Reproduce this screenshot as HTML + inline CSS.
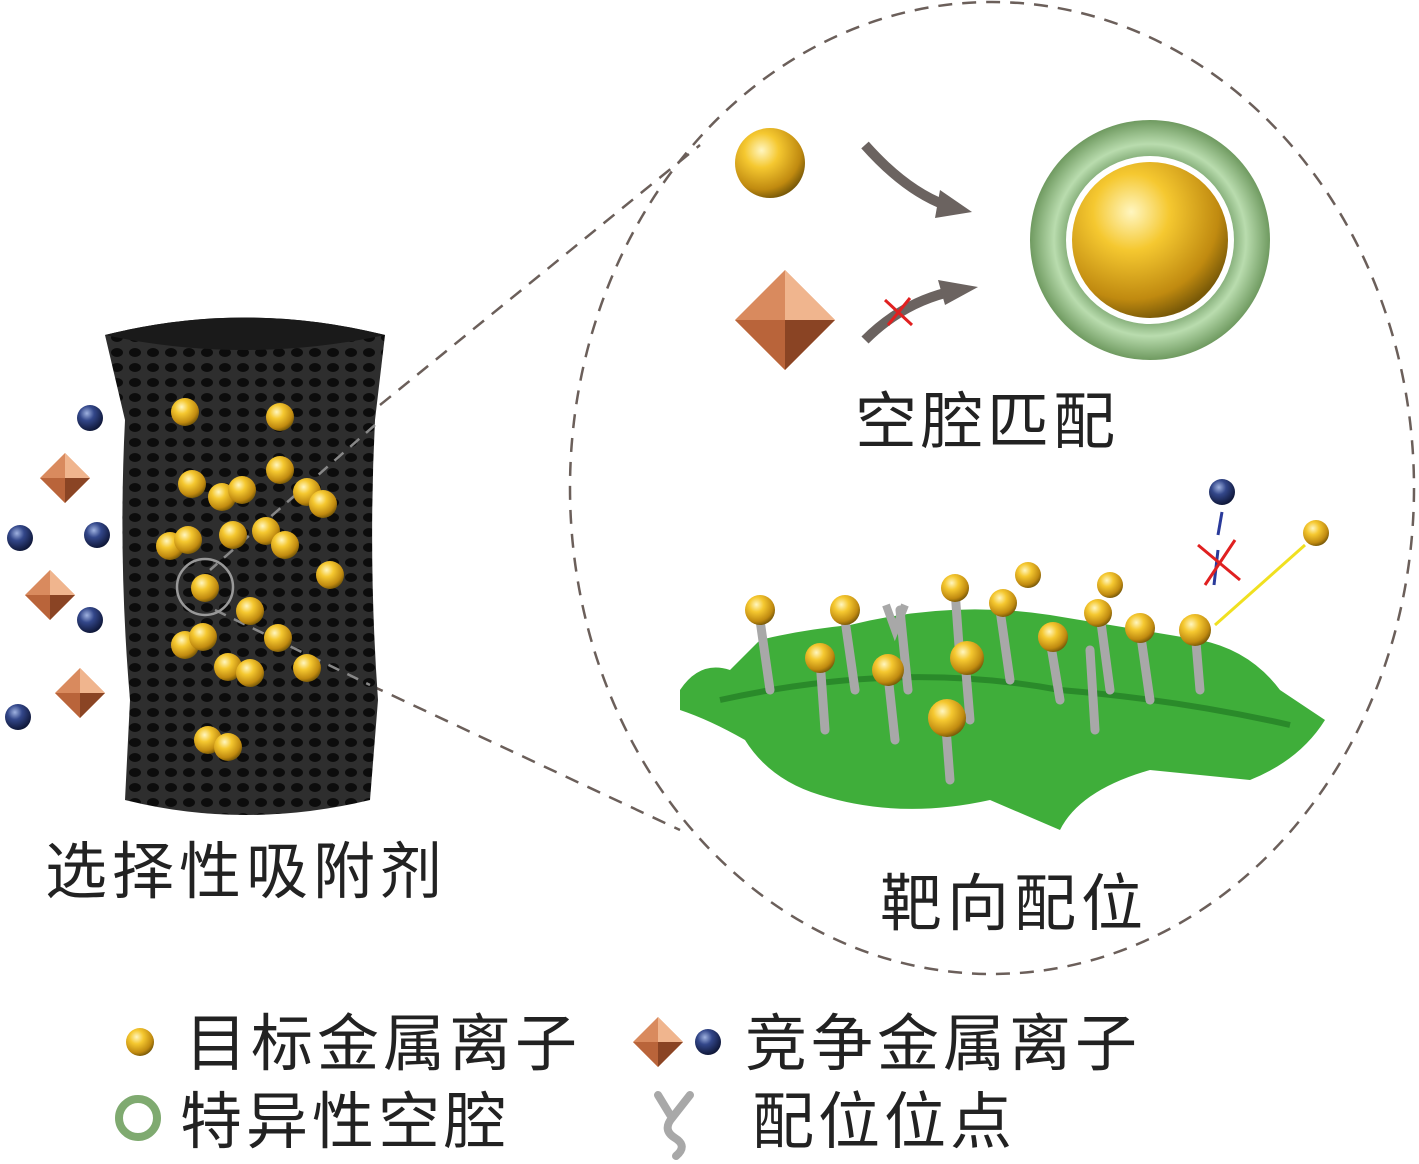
<!DOCTYPE html>
<html><head><meta charset="utf-8"><style>
body{margin:0;background:#fff}
svg{display:block}
text{font-family:"Liberation Sans","Noto Sans CJK SC",sans-serif;fill:#222}
</style></head><body>
<svg width="1419" height="1164" viewBox="0 0 1419 1164" xmlns="http://www.w3.org/2000/svg">
<defs>
<radialGradient id="gold" cx="0.38" cy="0.32" r="0.7">
<stop offset="0" stop-color="#fff6c0"/><stop offset="0.35" stop-color="#f5c830"/><stop offset="0.8" stop-color="#c08a10"/><stop offset="1" stop-color="#7a5a08"/></radialGradient>
<radialGradient id="blue" cx="0.38" cy="0.32" r="0.7">
<stop offset="0" stop-color="#9fb2e0"/><stop offset="0.4" stop-color="#33478a"/><stop offset="1" stop-color="#0e1636"/></radialGradient>
<radialGradient id="green" cx="0.5" cy="0.5" r="0.5">
<stop offset="0.6" stop-color="#5c8a50"/><stop offset="0.8" stop-color="#b9dcae"/><stop offset="1" stop-color="#6f9a60"/></radialGradient>
<pattern id="mesh" width="18" height="15" patternUnits="userSpaceOnUse">
<rect width="18" height="15" fill="#2e2e2e"/><ellipse cx="9" cy="7.5" rx="6" ry="4.5" fill="#0c0c0c"/></pattern>
<symbol id="dia" viewBox="-1 -1 2 2"><polygon points="0,-1 1,0 0,1 -1,0" fill="#d98a5e"/><polygon points="0,-1 1,0 0,0" fill="#f0b58e"/><polygon points="0,0 1,0 0,1" fill="#8a4424"/><polygon points="0,0 0,1 -1,0" fill="#b9643a"/></symbol>
</defs>
<ellipse cx="992" cy="488" rx="422" ry="486" fill="none" stroke="#6b5f5a" stroke-width="2.5" stroke-dasharray="14 10"/>
<line x1="380" y1="405" x2="700" y2="145" stroke="#6b5f5a" stroke-width="2.5" stroke-dasharray="14 10"/>
<line x1="370" y1="685" x2="680" y2="830" stroke="#6b5f5a" stroke-width="2.5" stroke-dasharray="14 10"/>
<path d="M105 335 Q245 300 385 335 L375 420 Q368 560 378 700 L370 800 Q245 830 125 800 L130 700 Q118 560 125 420 Z" fill="url(#mesh)"/>
<path d="M105 335 Q245 300 385 335 Q245 365 105 335Z" fill="#1a1a1a"/>
<line x1="375" y1="425" x2="210" y2="570" stroke="#888" stroke-width="2.5" stroke-dasharray="12 9"/>
<line x1="215" y1="610" x2="370" y2="685" stroke="#888" stroke-width="2.5" stroke-dasharray="12 9"/>
<circle cx="205" cy="587" r="28" fill="none" stroke="#999" stroke-width="2.5"/>
<g fill="url(#gold)">
<circle cx="185" cy="412" r="14"/><circle cx="280" cy="417" r="14"/><circle cx="280" cy="470" r="14"/><circle cx="192" cy="484" r="14"/><circle cx="222" cy="497" r="14"/><circle cx="242" cy="490" r="14"/><circle cx="307" cy="492" r="14"/><circle cx="323" cy="504" r="14"/><circle cx="170" cy="546" r="14"/><circle cx="188" cy="540" r="14"/><circle cx="233" cy="535" r="14"/><circle cx="266" cy="531" r="14"/><circle cx="285" cy="545" r="14"/><circle cx="330" cy="575" r="14"/><circle cx="205" cy="588" r="14"/><circle cx="250" cy="611" r="14"/><circle cx="185" cy="645" r="14"/><circle cx="203" cy="637" r="14"/><circle cx="228" cy="667" r="14"/><circle cx="250" cy="673" r="14"/><circle cx="278" cy="638" r="14"/><circle cx="307" cy="668" r="14"/><circle cx="208" cy="740" r="14"/><circle cx="228" cy="747" r="14"/>
</g>
<g fill="url(#blue)"><circle cx="90" cy="418" r="13"/><circle cx="20" cy="538" r="13"/><circle cx="97" cy="535" r="13"/><circle cx="90" cy="620" r="13"/><circle cx="18" cy="717" r="13"/></g>
<use href="#dia" x="40" y="453" width="50" height="50"/><use href="#dia" x="25" y="570" width="50" height="50"/><use href="#dia" x="55" y="668" width="50" height="50"/>
<text x="45" y="893" font-size="62" letter-spacing="5">选择性吸附剂</text>
<circle cx="770" cy="163" r="35" fill="url(#gold)"/>
<path d="M865 145 Q905 190 945 205" fill="none" stroke="#6b6360" stroke-width="10"/>
<polygon points="940,190 972,212 935,218" fill="#6b6360"/>
<use href="#dia" x="735" y="270" width="100" height="100"/>
<path d="M865 340 Q900 305 945 293" fill="none" stroke="#6b6360" stroke-width="10"/>
<polygon points="938,280 978,287 945,305" fill="#6b6360"/>
<g stroke="#e02020" stroke-width="3"><line x1="885" y1="300" x2="912" y2="325"/><line x1="910" y1="298" x2="888" y2="325"/></g>
<circle cx="1150" cy="240" r="120" fill="url(#green)"/>
<circle cx="1150" cy="240" r="84" fill="#fff"/>
<circle cx="1150" cy="240" r="78" fill="url(#gold)"/>
<text x="855" y="443" font-size="62" letter-spacing="4">空腔匹配</text>
<path d="M680 690 Q700 660 730 670 L760 640 Q800 630 850 625 Q950 600 1050 615 L1200 640 Q1250 650 1280 690 L1325 720 Q1300 760 1250 780 L1150 770 Q1080 790 1060 830 L990 800 Q900 820 820 795 Q770 780 745 740 Q710 720 680 710Z" fill="#3fae3a"/>
<path d="M720 700 Q900 660 1060 690 Q1180 700 1290 725" fill="none" stroke="#2a8a2a" stroke-width="6"/>
<g fill="none" stroke="#a8a8a8" stroke-width="9" stroke-linecap="round">
<path d="M760 620 L770 690"/><path d="M845 620 L855 690"/><path d="M820 660 L825 730"/><path d="M888 675 L895 740"/><path d="M900 610 L908 690"/><path d="M955 590 L960 660"/><path d="M1000 610 L1010 680"/><path d="M965 660 L970 720"/><path d="M1050 640 L1060 700"/><path d="M1100 615 L1110 690"/><path d="M1140 630 L1150 700"/><path d="M1195 630 L1200 690"/><path d="M945 715 L950 780"/><path d="M1090 650 L1095 730"/>
</g>
<path d="M886 605 L895 630 L905 605" fill="none" stroke="#a8a8a8" stroke-width="8"/>
<g fill="url(#gold)">
<circle cx="760" cy="610" r="15"/><circle cx="845" cy="610" r="15"/><circle cx="820" cy="658" r="15"/><circle cx="888" cy="670" r="16"/><circle cx="955" cy="588" r="14"/><circle cx="1028" cy="575" r="13"/><circle cx="1003" cy="603" r="14"/><circle cx="967" cy="658" r="17"/><circle cx="1053" cy="637" r="15"/><circle cx="1110" cy="585" r="13"/><circle cx="1098" cy="613" r="14"/><circle cx="1140" cy="628" r="15"/><circle cx="1195" cy="630" r="16"/><circle cx="947" cy="718" r="19"/><circle cx="1316" cy="533" r="13"/>
</g>
<line x1="1215" y1="625" x2="1305" y2="545" stroke="#f0e020" stroke-width="3"/>
<circle cx="1222" cy="492" r="13" fill="url(#blue)"/>
<line x1="1222" y1="512" x2="1218" y2="535" stroke="#2a3a9a" stroke-width="3"/>
<line x1="1218" y1="550" x2="1214" y2="585" stroke="#2a3a9a" stroke-width="3"/>
<g stroke="#e02020" stroke-width="3"><line x1="1198" y1="545" x2="1240" y2="580"/><line x1="1235" y1="540" x2="1205" y2="585"/></g>
<text x="880" y="925" font-size="62" letter-spacing="5">靶向配位</text>
<circle cx="140" cy="1042" r="14" fill="url(#gold)"/>
<text x="185" y="1065" font-size="62" letter-spacing="4">目标金属离子</text>
<use href="#dia" x="633" y="1017" width="50" height="50"/>
<circle cx="708" cy="1042" r="13" fill="url(#blue)"/>
<text x="745" y="1065" font-size="62" letter-spacing="4">竞争金属离子</text>
<circle cx="138" cy="1118" r="19" fill="none" stroke="#7faa70" stroke-width="8"/>
<text x="180" y="1143" font-size="62" letter-spacing="4">特异性空腔</text>
<path d="M658 1095 L672 1118 L690 1095 M672 1118 Q662 1130 675 1138 Q688 1146 676 1156" fill="none" stroke="#a8a8a8" stroke-width="8" stroke-linecap="round"/>
<text x="752" y="1143" font-size="62" letter-spacing="4">配位位点</text>
</svg>
</body></html>
